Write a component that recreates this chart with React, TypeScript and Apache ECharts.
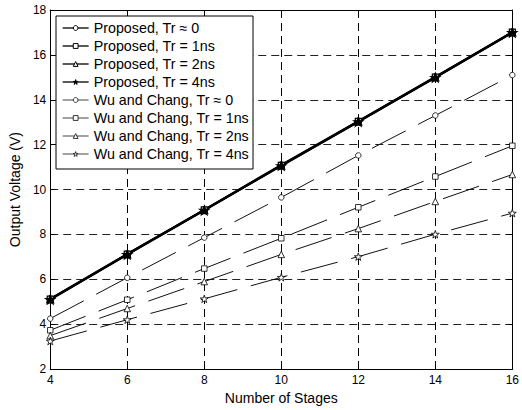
import React, { useEffect, useRef } from "react";
import * as echarts from "echarts";

const stages = [4, 6, 8, 10, 12, 14, 16];
const propTr0 = [5.13, 7.13, 9.1, 11.1, 13.05, 15.02, 17.02];
const propTr1 = [5.12, 7.12, 9.09, 11.08, 13.04, 15.01, 17.01];
const propTr2 = [5.11, 7.11, 9.08, 11.07, 13.03, 15.0, 17.0];
const propTr4 = [5.1, 7.1, 9.07, 11.06, 13.02, 14.99, 16.99];
const wuTr0 = [4.25, 6.07, 7.86, 9.65, 11.52, 13.3, 15.1];
const wuTr1 = [3.73, 5.09, 6.48, 7.83, 9.21, 10.58, 11.95];
const wuTr2 = [3.49, 4.7, 5.9, 7.11, 8.26, 9.47, 10.67];
const wuTr4 = [3.25, 4.2, 5.13, 6.09, 7.01, 8.01, 8.95];

const names = [
  "Proposed, Tr \u2248 0",
  "Proposed, Tr = 1ns",
  "Proposed, Tr = 2ns",
  "Proposed, Tr = 4ns",
  "Wu and Chang, Tr \u2248 0",
  "Wu and Chang, Tr = 1ns",
  "Wu and Chang, Tr = 2ns",
  "Wu and Chang, Tr = 4ns",
];

const STAR =
  "path://M100,0 L122.34,69.26 L195.11,69.1 L136.14,111.74 L158.78,180.9 L100,138 L41.22,180.9 L63.86,111.74 L4.89,69.1 L77.66,69.26 Z";

const FONT = "'Liberation Sans', Arial, Helvetica, sans-serif";

export default function App() {
  const ref = useRef<HTMLDivElement>(null);
  useEffect(() => {
    if (!ref.current) return;
    const chart = echarts.init(ref.current, null, { renderer: "svg" });
    const mk = (
      name: string,
      data: number[],
      symbol: string,
      proposed: boolean,
      filled: boolean,
      size: number
    ) => ({
      name,
      type: "line",
      data: stages.map((s, i) => [s, data[i]]),
      symbol,
      symbolSize: size,
      symbolKeepAspect: true,
      showAllSymbol: true,
      lineStyle: proposed
        ? { color: "#000", width: 2, type: "solid" }
        : { color: "#111", width: 1, type: [38, 14] },
      itemStyle: {
        color: filled ? "#000" : "#fff",
        borderColor: "#000",
        borderWidth: proposed ? 1.2 : 0.8,
      },
      emphasis: { disabled: true },
      z: proposed ? 4 : 3,
    });
    const series = [
      mk(names[0], propTr0, "circle", true, false, 6),
      mk(names[1], propTr1, "rect", true, false, 6),
      mk(names[2], propTr2, "triangle", true, false, 7),
      mk(names[3], propTr4, STAR, true, true, 9),
      mk(names[4], wuTr0, "circle", false, false, 5.5),
      mk(names[5], wuTr1, "rect", false, false, 5.5),
      mk(names[6], wuTr2, "triangle", false, false, 6.5),
      mk(names[7], wuTr4, STAR, false, false, 8),
    ];
    const legendData = names.map((n, i) => ({
      name: n,
      lineStyle:
        i < 4
          ? { color: "#000", width: 1.3, type: "solid" }
          : { color: "#444", width: 1, type: "solid" },
      itemStyle: {
        color: i === 3 ? "#000" : "#fff",
        borderColor: i < 4 ? "#000" : "#333",
        borderWidth: 1,
      },
    }));
    const axisCommon = {
      axisLine: { show: true, lineStyle: { color: "#000", width: 1 } },
      axisTick: { show: true, inside: true, length: 5, lineStyle: { color: "#000" } },
    };
    chart.setOption({
      animation: false,
      backgroundColor: "#fff",
      grid: { left: 45, right: 7, top: 10, bottom: 36, containLabel: false },
      legend: {
        orient: "vertical",
        left: 56,
        top: 16,
        data: legendData,
        itemWidth: 26,
        itemHeight: 6,
        itemGap: 4,
        padding: [5, 4, 8, 6],
        backgroundColor: "#fff",
        borderColor: "#000",
        borderWidth: 1,
        borderRadius: 0,
        textStyle: { fontFamily: FONT, fontSize: 14.3, color: "#000", lineHeight: 14 },
        selectedMode: false,
        z: 10,
      },
      xAxis: [
        {
          ...axisCommon,
          type: "value",
          min: 4,
          max: 16,
          interval: 2,
          position: "bottom",
          name: "Number of Stages",
          nameLocation: "middle",
          nameGap: 21,
          nameTextStyle: { fontFamily: FONT, fontSize: 14, color: "#000" },
          axisLabel: { fontFamily: FONT, fontSize: 12, color: "#000", margin: 5 },
          splitLine: { show: true, lineStyle: { color: "#000", type: [8, 5], width: 1 } },
        },
        {
          ...axisCommon,
          type: "value",
          min: 4,
          max: 16,
          interval: 2,
          position: "top",
          axisLabel: { show: false },
          splitLine: { show: false },
        },
      ],
      yAxis: [
        {
          ...axisCommon,
          type: "value",
          min: 2,
          max: 18,
          interval: 2,
          position: "left",
          name: "Output Voltage (V)",
          nameLocation: "middle",
          nameGap: 25,
          nameTextStyle: { fontFamily: FONT, fontSize: 14, color: "#000" },
          axisLabel: { fontFamily: FONT, fontSize: 12, color: "#000", margin: 4 },
          splitLine: { show: true, lineStyle: { color: "#222", type: [8, 5], width: 1 } },
        },
        {
          ...axisCommon,
          type: "value",
          min: 2,
          max: 18,
          interval: 2,
          position: "right",
          axisLabel: { show: false },
          splitLine: { show: false },
        },
      ],
      series,
    });
    return () => chart.dispose();
  }, []);
  return <div ref={ref} style={{ width: 522, height: 410, position: "absolute", left: 0, top: 0 }} />;
}
